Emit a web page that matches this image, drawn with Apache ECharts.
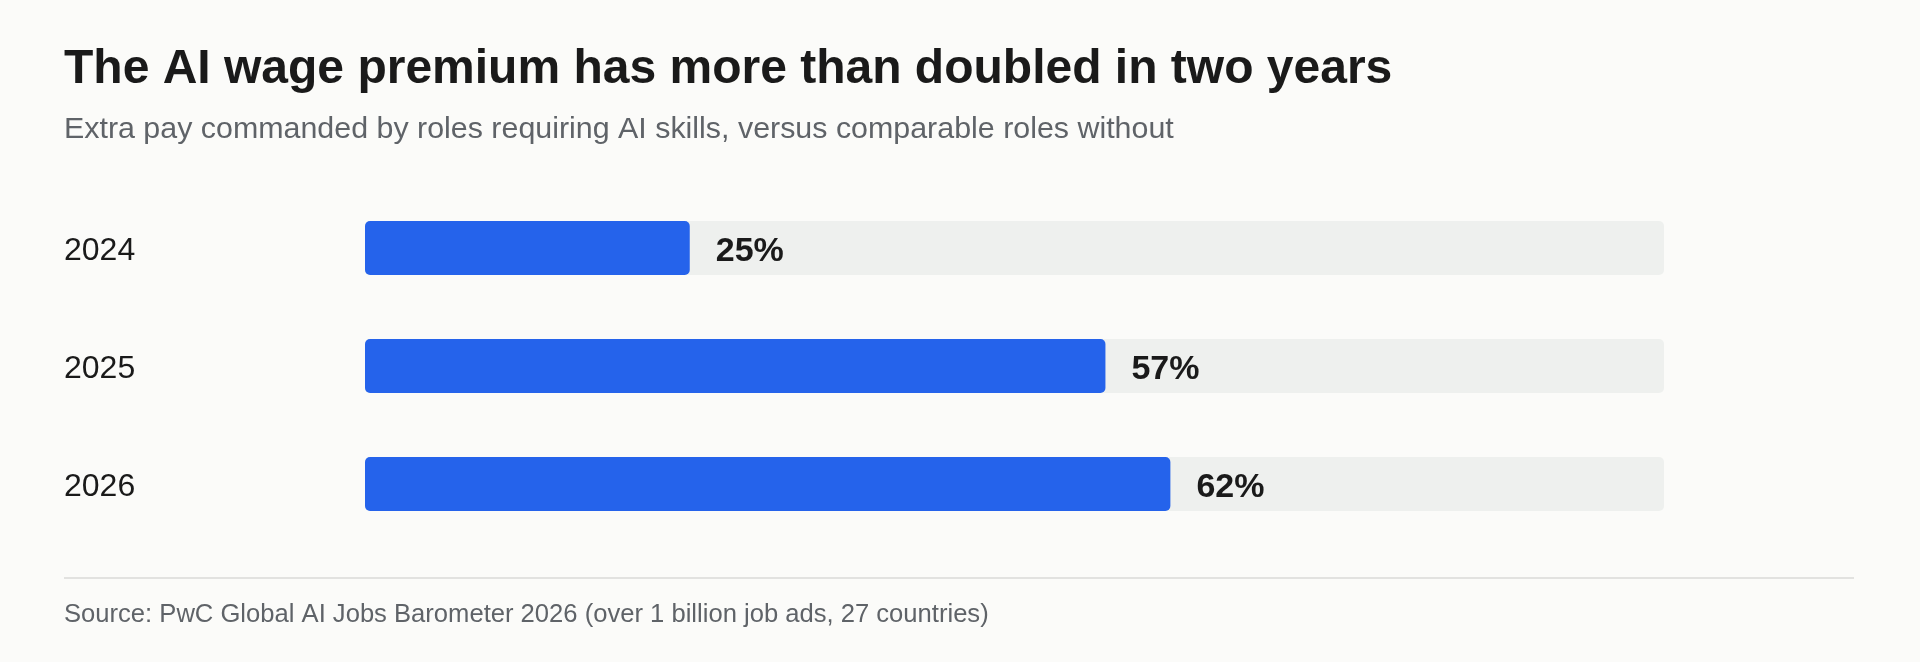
<!DOCTYPE html>
<html>
<head>
<meta charset="utf-8">
<title>AI wage premium</title>
<script src="https://cdn.jsdelivr.net/npm/echarts@6/dist/echarts.min.js"></script>
<style>
  html, body { margin: 0; padding: 0; background: #fbfbf9; }
  #chart { width: 1920px; height: 662px; }
</style>
</head>
<body>
<div id="chart"></div>
<script>
// data
const years = ["2024", "2025", "2026"];
const premium = [25, 57, 62];

const FONT = "'Liberation Sans', Arial, Helvetica, sans-serif";

const chart = echarts.init(document.getElementById("chart"));

const option = {
    backgroundColor: "#fbfbf9",
    animation: false,
    title: [
        {
            text: "The AI wage premium has more than doubled in two years",
            left: 64,
            top: 46,
            padding: 0,
            textStyle: {fontFamily: FONT, fontSize: 48, fontWeight: "bold", color: "#1a1a1a"}
        },
        {
            text: "Extra pay commanded by roles requiring AI skills, versus comparable roles without",
            left: 64,
            top: 115,
            padding: 0,
            textStyle: {fontFamily: FONT, fontSize: 30.4, fontWeight: "normal", color: "#5f6368"}
        }
    ],
    grid: {left: 365, right: 256, top: 189, bottom: 119},
    xAxis: {
        type: "value",
        min: 0,
        max: 100,
        show: false
    },
    yAxis: {
        type: "category",
        data: years,
        inverse: true,
        axisLine: {show: false},
        axisTick: {show: false},
        axisLabel: {
            align: "left",
            margin: 301,
            formatter: "{y|{value}}",
            rich: {
                // nudge the year down a little so it sits on the bar centre
                y: {
                    padding: [6, 0, 0, 0],
                    fontFamily: FONT,
                    fontSize: 32,
                    color: "#1a1a1a"
                }
            }
        }
    },
    series: [
        {
            type: "bar",
            data: premium,
            barWidth: 54,
            itemStyle: {color: "#2563eb", borderRadius: 5},
            showBackground: true,
            backgroundStyle: {color: "#eef0ee", borderRadius: 5},
            label: {
                show: true,
                position: "right",
                distance: 26,
                offset: [0, 4],
                formatter: "{c}%",
                fontFamily: FONT,
                fontSize: 34,
                fontWeight: "bold",
                color: "#1a1a1a"
            }
        }
    ],
    graphic: [
        {
            type: "line",
            shape: {x1: 64, y1: 578, x2: 1854, y2: 578},
            style: {stroke: "#e2e2e0", lineWidth: 2}
        },
        {
            type: "text",
            left: 64,
            top: 602,
            style: {
                text: "Source: PwC Global AI Jobs Barometer 2026 (over 1 billion job ads, 27 countries)",
                fontFamily: FONT,
                fontSize: 25.6,
                fill: "#5f6368"
            }
        }
    ]
};

chart.setOption(option);
</script>
</body>
</html>
